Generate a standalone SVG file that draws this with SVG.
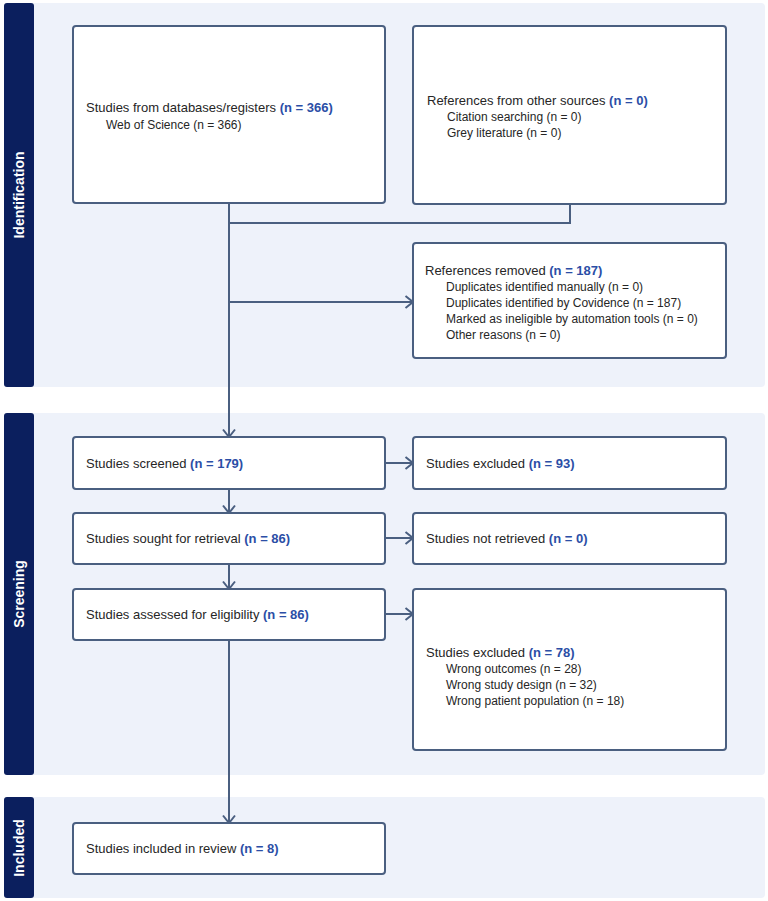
<svg xmlns="http://www.w3.org/2000/svg" width="768" height="901" viewBox="0 0 768 901">
<defs>
<style>
.panel{fill:#EEF2FA}
.side{fill:#0B1F5E}
.box{fill:#FFFFFF;stroke:#4A5F80;stroke-width:2}
.t{font-family:"Liberation Sans",Arial,sans-serif;font-size:13px;fill:#262626}
.s{font-family:"Liberation Sans",Arial,sans-serif;font-size:12px;fill:#262626}
.n{font-weight:bold;fill:#2B4EA6}
.lab{font-family:"Liberation Sans",Arial,sans-serif;font-size:14px;font-weight:bold;fill:#FFFFFF;text-anchor:middle}
.ln{fill:none;stroke:#4A5F80;stroke-width:2}
</style>
<marker id="arr" viewBox="0 0 10 14" refX="9" refY="7" markerWidth="10" markerHeight="14" markerUnits="userSpaceOnUse" orient="auto">
<path d="M1.5,1 L9,7 L1.5,13" fill="none" stroke="#4A5F80" stroke-width="2"/>
</marker>
</defs>
<rect width="768" height="901" fill="#FFFFFF"/>

<g id="sections">
<rect class="panel" x="4" y="3" width="761" height="384" rx="4"/>
<rect class="side" x="4" y="3" width="30" height="384" rx="3"/>
<text class="lab" transform="translate(24,195) rotate(-90)">Identification</text>
<rect class="panel" x="4" y="413" width="761" height="362" rx="4"/>
<rect class="side" x="4" y="413" width="30" height="362" rx="3"/>
<text class="lab" transform="translate(24,594) rotate(-90)">Screening</text>
<rect class="panel" x="4" y="797" width="761" height="101" rx="4"/>
<rect class="side" x="4" y="797" width="30" height="101" rx="3"/>
<text class="lab" transform="translate(24,848) rotate(-90)">Included</text>
</g>

<g id="connectors">
<path class="ln" d="M229,204 V437" marker-end="url(#arr)"/>
<path class="ln" d="M570,204 V223 H229"/>
<path class="ln" d="M229,302 H413" marker-end="url(#arr)"/>
<path class="ln" d="M385,463 H413" marker-end="url(#arr)"/>
<path class="ln" d="M229,489 V513" marker-end="url(#arr)"/>
<path class="ln" d="M385,538 H413" marker-end="url(#arr)"/>
<path class="ln" d="M229,564 V589" marker-end="url(#arr)"/>
<path class="ln" d="M385,614 H413" marker-end="url(#arr)"/>
<path class="ln" d="M229,640 V823" marker-end="url(#arr)"/>
</g>

<g id="n-databases">
<rect class="box" x="73" y="26" width="312" height="177" rx="3"/>
<text class="t" x="86" y="112">Studies from databases/registers <tspan class="n">(n = 366)</tspan></text>
<text class="s" x="106" y="129">Web of Science (n = 366)</text>
</g>

<g id="n-other">
<rect class="box" x="413" y="26" width="313" height="178" rx="3"/>
<text class="t" x="427" y="105">References from other sources <tspan class="n">(n = 0)</tspan></text>
<text class="s" x="447" y="121">Citation searching (n = 0)</text>
<text class="s" x="447" y="137">Grey literature (n = 0)</text>
</g>

<g id="n-removed">
<rect class="box" x="413" y="243" width="313" height="115" rx="3"/>
<text class="t" x="425" y="275">References removed <tspan class="n">(n = 187)</tspan></text>
<text class="s" x="446" y="291">Duplicates identified manually (n = 0)</text>
<text class="s" x="446" y="307">Duplicates identified by Covidence (n = 187)</text>
<text class="s" x="446" y="323">Marked as ineligible by automation tools (n = 0)</text>
<text class="s" x="446" y="339">Other reasons (n = 0)</text>
</g>

<g id="n-screened">
<rect class="box" x="73" y="437" width="312" height="52" rx="3"/>
<text class="t" x="86" y="468">Studies screened <tspan class="n">(n = 179)</tspan></text>
</g>

<g id="n-excluded1">
<rect class="box" x="413" y="437" width="313" height="52" rx="3"/>
<text class="t" x="426" y="468">Studies excluded <tspan class="n">(n = 93)</tspan></text>
</g>

<g id="n-sought">
<rect class="box" x="73" y="513" width="312" height="51" rx="3"/>
<text class="t" x="86" y="543">Studies sought for retrieval <tspan class="n">(n = 86)</tspan></text>
</g>

<g id="n-notretrieved">
<rect class="box" x="413" y="513" width="313" height="51" rx="3"/>
<text class="t" x="426" y="543">Studies not retrieved <tspan class="n">(n = 0)</tspan></text>
</g>

<g id="n-assessed">
<rect class="box" x="73" y="589" width="312" height="51" rx="3"/>
<text class="t" x="86" y="619">Studies assessed for eligibility <tspan class="n">(n = 86)</tspan></text>
</g>

<g id="n-excluded2">
<rect class="box" x="413" y="589" width="313" height="161" rx="3"/>
<text class="t" x="426" y="657">Studies excluded <tspan class="n">(n = 78)</tspan></text>
<text class="s" x="446" y="673">Wrong outcomes (n = 28)</text>
<text class="s" x="446" y="689">Wrong study design (n = 32)</text>
<text class="s" x="446" y="705">Wrong patient population (n = 18)</text>
</g>

<g id="n-included">
<rect class="box" x="73" y="823" width="312" height="51" rx="3"/>
<text class="t" x="86" y="853">Studies included in review <tspan class="n">(n = 8)</tspan></text>
</g>
</svg>
